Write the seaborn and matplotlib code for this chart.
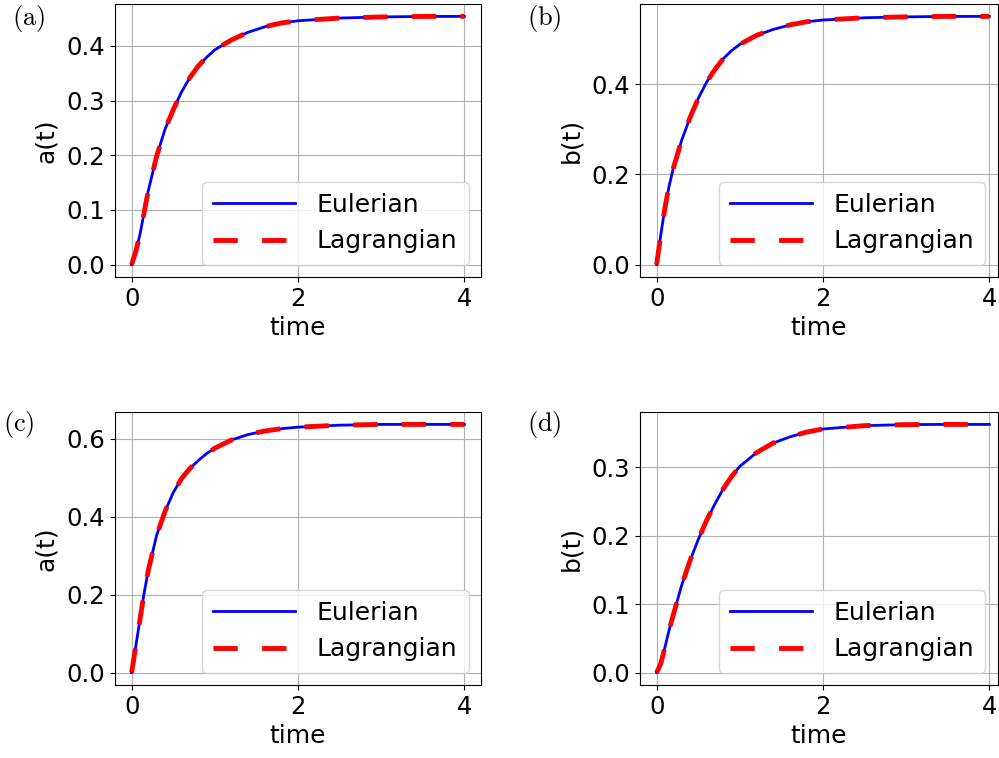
import matplotlib
matplotlib.use("Agg")
import matplotlib.pyplot as plt
import seaborn as sns
import pandas as pd

# Sampling times shared by all four panels
time = [0.0, 0.05, 0.1, 0.15, 0.2, 0.3, 0.4, 0.5, 0.6, 0.7, 0.8, 0.9, 1.0,
        1.2, 1.4, 1.6, 1.8, 2.0, 2.5, 3.0, 3.5, 4.0]

# Case 1: a(t) and b(t)
a_case1 = [0.0, 0.024, 0.055, 0.095, 0.135, 0.198, 0.247, 0.283, 0.316, 0.342,
           0.363, 0.379, 0.393, 0.411, 0.425, 0.435, 0.442, 0.446, 0.451, 0.453,
           0.454, 0.454]
b_case1 = [0.0, 0.066, 0.126, 0.174, 0.213, 0.275, 0.325, 0.368, 0.404, 0.432,
           0.456, 0.474, 0.488, 0.508, 0.521, 0.531, 0.538, 0.542, 0.547, 0.549,
           0.550, 0.550]

# Case 2: a(t) and b(t)
a_case2 = [0.0, 0.068, 0.136, 0.204, 0.262, 0.352, 0.413, 0.462, 0.498, 0.524,
           0.544, 0.562, 0.576, 0.597, 0.611, 0.620, 0.626, 0.630, 0.635, 0.637,
           0.637, 0.637]
b_case2 = [0.0, 0.013, 0.037, 0.062, 0.084, 0.127, 0.163, 0.194, 0.222, 0.246,
           0.268, 0.286, 0.301, 0.321, 0.335, 0.344, 0.351, 0.3556, 0.3605,
           0.362, 0.3623, 0.3623]

# The Lagrangian solver reproduces the Eulerian solution
a_case1_lagr = a_case1
b_case1_lagr = b_case1
a_case2_lagr = a_case2
b_case2_lagr = b_case2

panels = [
    ("(a)", "a(t)", a_case1, a_case1_lagr),
    ("(b)", "b(t)", b_case1, b_case1_lagr),
    ("(c)", "a(t)", a_case2, a_case2_lagr),
    ("(d)", "b(t)", b_case2, b_case2_lagr),
]

plt.rcParams["mathtext.fontset"] = "cm"

W, H = 999, 758
fig = plt.figure(figsize=(W / 100, H / 100), dpi=100)

# axes boxes in pixels: left, top, right, bottom
boxes = [(115, 4, 481, 277), (640, 4, 998, 277),
         (115, 412, 481, 685), (640, 412, 998, 685)]
label_pos = [(12, 19), (527, 18), (3, 425), (527, 425)]
xlims = [(-0.2, 4.2), (-0.2, 4.105), (-0.2, 4.2), (-0.2, 4.105)]

for (tag, ylab, euler, lagr), (l, t, r, b), (lx, ly), xl in zip(
        panels, boxes, label_pos, xlims):
    ax = fig.add_axes([l / W, 1 - b / H, (r - l) / W, (b - t) / H])
    df_e = pd.DataFrame({"time": time, "value": euler})
    df_l = pd.DataFrame({"time": time, "value": lagr})
    sns.lineplot(data=df_e, x="time", y="value", ax=ax, color="blue",
                 lw=2, label="Eulerian", zorder=3)
    sns.lineplot(data=df_l, x="time", y="value", ax=ax, color="red",
                 lw=3.5, linestyle=(0, (5, 5)), label="Lagrangian", zorder=4)
    ax.set_xlim(*xl)
    ax.set_xticks([0, 2, 4])
    ax.grid(True, color="#b0b0b0", lw=0.8)
    ax.set_axisbelow(True)
    ax.tick_params(labelsize=17.5)
    ax.set_xlabel("time", fontsize=18)
    ax.set_ylabel(ylab, fontsize=18, labelpad=6)
    ax.legend(loc="lower right", fontsize=18, handlelength=3.3,
              handletextpad=0.85, borderpad=0.45)
    fig.text(lx / W, 1 - ly / H, r"$\mathrm{" + tag + "}$", fontsize=19,
             ha="left", va="center")

fig.savefig("out.png", dpi=100)
